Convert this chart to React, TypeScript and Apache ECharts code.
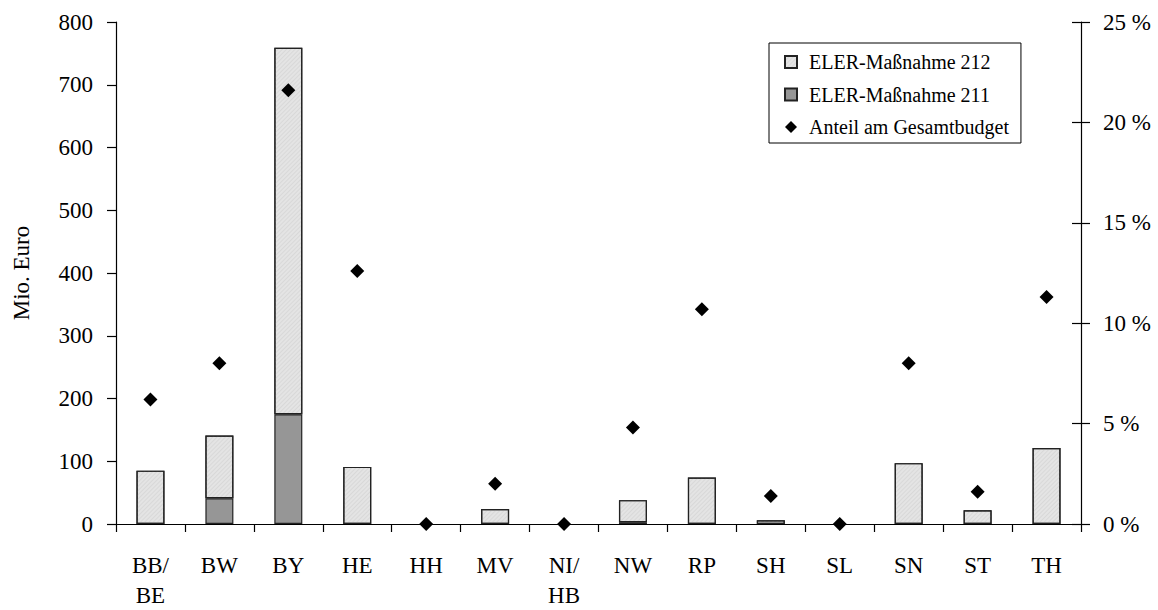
import React, { useEffect, useRef } from "react";
import * as echarts from "echarts";

// Bundesländer (x-axis categories)
const categories = ["BB/\nBE", "BW", "BY", "HE", "HH", "MV", "NI/\nHB", "NW", "RP", "SH", "SL", "SN", "ST", "TH"];

// Mio. Euro per measure
const measure211 = [0, 41, 175, 0, 0, 0, 0, 3, 0, 0, 0, 0, 0, 0];
const measure212 = [85, 100, 584, 91, 0, 24, 0, 35, 74, 6, 0, 97, 22, 121];

// Share of total budget, in %
const shareOfBudget = [6.2, 8.0, 21.6, 12.6, 0, 2.0, 0, 4.8, 10.7, 1.4, 0, 8.0, 1.6, 11.3];

const leftTicks = { min: 0, max: 800, interval: 100 };
const rightTicks = { min: 0, max: 25, interval: 5 };

const NAME_212 = "ELER-Maßnahme 212";
const NAME_211 = "ELER-Maßnahme 211";
const NAME_SHARE = "Anteil am Gesamtbudget";

const FONT = "'Liberation Serif', 'Times New Roman', serif";

// empty segments are left out so no zero-height outline is drawn
const skipZero = (v: number) => (v === 0 ? null : v);

export default function App() {
  const ref = useRef<HTMLDivElement>(null);

  useEffect(() => {
    if (!ref.current) return;
    const chart = echarts.init(ref.current, undefined, { renderer: "svg" });
    const axisText = { color: "#000", fontFamily: FONT, fontSize: 23 };
    const line = { lineStyle: { color: "#000", width: 1.2 } };

    chart.setOption({
      animation: false,
      backgroundColor: "#fff",
      textStyle: { fontFamily: FONT },
      grid: {
        left: 116,
        right: 77,
        top: 22,
        bottom: 86,
        containLabel: false,
        outerBoundsMode: "none",
      },
      legend: {
        orient: "vertical",
        left: 769,
        top: 43,
        padding: [8, 12, 5, 15],
        itemWidth: 12,
        itemHeight: 12,
        itemGap: 10.5,
        borderColor: "#000",
        borderWidth: 1,
        backgroundColor: "#fff",
        data: [
          { name: NAME_212, icon: "rect" },
          { name: NAME_211, icon: "rect" },
          { name: NAME_SHARE, icon: "diamond" },
        ],
        textStyle: {
          color: "#000",
          fontFamily: FONT,
          fontSize: 20,
          lineHeight: 22,
          padding: [0, 0, 0, 7],
        },
      },
      xAxis: [
        {
          type: "category",
          data: categories,
          position: "bottom",
          axisLine: { show: true, ...line },
          axisTick: { show: true, interval: 0, length: 8, alignWithLabel: false, ...line },
          axisLabel: { ...axisText, interval: 0, margin: 26, lineHeight: 30 },
          splitLine: { show: false },
        },
        {
          // top frame line of the plot area
          type: "category",
          data: categories,
          position: "top",
          axisLine: { show: true, ...line },
          axisTick: { show: false },
          axisLabel: { show: false },
          splitLine: { show: false },
        },
      ],
      yAxis: [
        {
          type: "value",
          position: "left",
          ...leftTicks,
          name: "Mio. Euro",
          nameLocation: "middle",
          nameGap: 83,
          nameRotate: 90,
          nameTextStyle: { ...axisText },
          axisLine: { show: true, ...line },
          axisTick: { show: true, length: 9, ...line },
          axisLabel: { ...axisText, margin: 23 },
          splitLine: { show: false },
        },
        {
          type: "value",
          position: "right",
          ...rightTicks,
          axisLine: { show: true, ...line },
          axisTick: { show: true, length: 9, ...line },
          axisLabel: { ...axisText, margin: 22, formatter: (v: number) => `${v} %` },
          splitLine: { show: false },
        },
        {
          // inward half of the right-hand ticks
          type: "value",
          position: "right",
          ...rightTicks,
          axisLine: { show: false },
          axisTick: { show: true, inside: true, length: 9, ...line },
          axisLabel: { show: false },
          splitLine: { show: false },
        },
      ],
      series: [
        {
          name: NAME_211,
          type: "bar",
          stack: "total",
          barWidth: 28,
          data: measure211.map(skipZero),
          itemStyle: { color: "#969696", borderColor: "#222", borderWidth: 1.2 },
        },
        {
          name: NAME_212,
          type: "bar",
          stack: "total",
          barWidth: 28,
          data: measure212.map(skipZero),
          itemStyle: {
            color: "#e4e4e4",
            borderColor: "#222",
            borderWidth: 1.2,
            decal: {
              symbol: "rect",
              symbolSize: 1,
              dashArrayX: [1, 0],
              dashArrayY: [1, 2],
              rotation: -Math.PI / 4,
              color: "rgba(190,190,190,0.3)",
            },
          },
        },
        {
          name: NAME_SHARE,
          type: "scatter",
          yAxisIndex: 1,
          symbol: "diamond",
          symbolSize: 14,
          data: shareOfBudget,
          itemStyle: { color: "#000", opacity: 1 },
          z: 5,
        },
      ],
    });

    return () => chart.dispose();
  }, []);

  return (
    <div
      ref={ref}
      style={{ position: "absolute", left: 0, top: 0, width: 1158, height: 610 }}
    />
  );
}
